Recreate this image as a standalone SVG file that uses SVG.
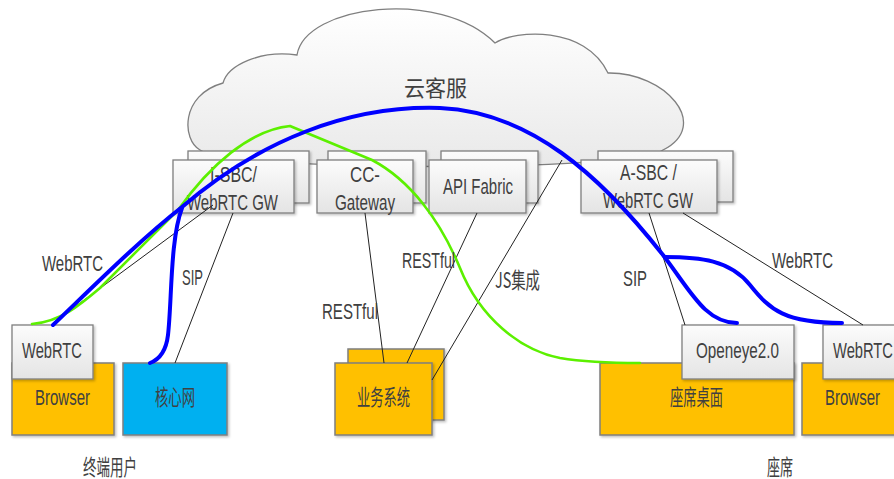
<svg xmlns="http://www.w3.org/2000/svg" width="894" height="479" viewBox="0 0 894 479">
<defs>
<linearGradient id="gBox" x1="0" y1="0" x2="0" y2="1">
<stop offset="0" stop-color="#fcfcfc"/>
<stop offset="1" stop-color="#e4e4e4"/>
</linearGradient>
<linearGradient id="gCloud" x1="0" y1="0" x2="0" y2="1">
<stop offset="0" stop-color="#ffffff"/>
<stop offset="1" stop-color="#e9e9e9"/>
</linearGradient>
<filter id="sh" x="-10%" y="-10%" width="130%" height="130%">
<feDropShadow dx="1.5" dy="1.5" stdDeviation="1" flood-color="#000" flood-opacity="0.25"/>
</filter>
</defs>
<style>
.gray{fill:url(#gBox);stroke:#7f7f7f;stroke-width:1.3;filter:url(#sh)}
.yel{fill:#ffc000;stroke:#7f7f7f;stroke-width:1.5;filter:url(#sh)}
.blu{fill:#00b0f0;stroke:#7f7f7f;stroke-width:1.5;filter:url(#sh)}
.t{font-family:"Liberation Sans","Noto Sans CJK SC",sans-serif;font-size:22px;fill:#404040;text-anchor:middle}
.c{font-family:"Noto Sans CJK SC","Liberation Sans",sans-serif;font-size:22px;fill:#404040;text-anchor:middle}
.thin{fill:none;stroke:#222;stroke-width:1}
.bl{fill:none;stroke:#0000ff;stroke-width:4;stroke-linecap:round}
.gr{fill:none;stroke:#5cf000;stroke-width:2.6;stroke-linecap:round;stroke-linejoin:round}
</style>
<rect width="894" height="479" fill="#ffffff"/>

<g id="cloud">
<path d="M200,150 C182,140 180,95 223,83 C228,65 260,50 297,55 C305,5 440,-12 495,43 C515,30 585,25 608,73 C665,72 712,125 663,150 C640,172 230,172 200,150 Z" fill="url(#gCloud)" stroke="#7f7f7f" stroke-width="1.3"/>
<text class="c" x="435.5" y="96" font-size="34" textLength="63" lengthAdjust="spacingAndGlyphs">云客服</text>
</g>

<g id="isbc">
<rect class="gray" x="188" y="151" width="121" height="52"/>
<rect class="gray" x="173" y="160" width="121" height="53"/>
<text class="t" x="233.5" y="182" textLength="47" lengthAdjust="spacingAndGlyphs">I-SBC/</text>
<text class="t" x="232.5" y="210" textLength="91" lengthAdjust="spacingAndGlyphs">WebRTC GW</text>
</g>

<g id="ccgw">
<rect class="gray" x="328" y="151" width="98" height="52"/>
<rect class="gray" x="317" y="160" width="96" height="53"/>
<text class="t" x="365" y="182" textLength="30" lengthAdjust="spacingAndGlyphs">CC-</text>
<text class="t" x="365" y="210" textLength="60" lengthAdjust="spacingAndGlyphs">Gateway</text>
</g>

<g id="apifabric">
<rect class="gray" x="441" y="151" width="97" height="52"/>
<rect class="gray" x="429" y="160" width="97" height="53"/>
<text class="t" x="478" y="194" textLength="70" lengthAdjust="spacingAndGlyphs">API Fabric</text>
</g>

<g id="asbc">
<rect class="gray" x="598" y="151" width="135" height="51"/>
<rect class="gray" x="581" y="160" width="136" height="53"/>
<text class="t" x="648.5" y="180" textLength="57" lengthAdjust="spacingAndGlyphs">A-SBC /</text>
<text class="t" x="648" y="208" textLength="90" lengthAdjust="spacingAndGlyphs">WebRTC GW</text>
</g>

<g id="browser-left">
<rect class="yel" x="12" y="363" width="102" height="72"/>
<text class="t" x="62.5" y="405" fill="#3a3a3a" textLength="55" lengthAdjust="spacingAndGlyphs">Browser</text>
</g>
<g id="webrtc-left">
<rect class="gray" x="12" y="325" width="81" height="54"/>
<text class="t" x="52" y="358" textLength="60" lengthAdjust="spacingAndGlyphs">WebRTC</text>
</g>

<g id="core">
<rect class="blu" x="123" y="363" width="104" height="72"/>
<text class="c" x="175" y="405" fill="#333" textLength="40" lengthAdjust="spacingAndGlyphs">核心网</text>
</g>

<g id="biz">
<rect class="yel" x="348" y="349" width="96" height="71"/>
<rect class="yel" x="335" y="363" width="97" height="72"/>
<text class="c" x="383.5" y="405" fill="#3a3a3a" textLength="53" lengthAdjust="spacingAndGlyphs">业务系统</text>
</g>

<g id="desk">
<rect class="yel" x="600" y="363" width="194" height="72"/>
<text class="c" x="696.5" y="405" fill="#3a3a3a" textLength="53" lengthAdjust="spacingAndGlyphs">座席桌面</text>
</g>
<g id="openeye">
<rect class="gray" x="682" y="325" width="112" height="54"/>
<text class="t" x="737.5" y="358" textLength="83" lengthAdjust="spacingAndGlyphs">Openeye2.0</text>
</g>

<g id="browser-right">
<rect class="yel" x="802" y="363" width="110" height="72"/>
<text class="t" x="852.5" y="405" fill="#3a3a3a" textLength="55" lengthAdjust="spacingAndGlyphs">Browser</text>
</g>
<g id="webrtc-right">
<rect class="gray" x="823" y="325" width="90" height="54"/>
<text class="t" x="833" y="358" style="text-anchor:start" textLength="60" lengthAdjust="spacingAndGlyphs">WebRTC</text>
</g>

<g id="connectors">
<line class="thin" x1="213" y1="205" x2="53" y2="323"/>
<line class="thin" x1="233" y1="213" x2="175" y2="363"/>
<line class="thin" x1="365" y1="213" x2="384" y2="363"/>
<line class="thin" x1="477" y1="213" x2="407" y2="363"/>
<line class="thin" x1="562" y1="160" x2="432" y2="380"/>
<line class="thin" x1="649" y1="213" x2="685" y2="325"/>
<line class="thin" x1="683" y1="213" x2="863" y2="325"/>
<path class="gr" d="M32,324 C60,322 80,305 100,288 L178,210 C210,165 250,130 290,126 L372,160 C410,180 440,220 460,268 C480,318 520,350 560,358 C590,363 620,363 640,363"/>
<path class="bl" d="M53,325 C100,280 140,240 182,207 C260,140 350,105 440,108 C530,112 600,175 663,255 C690,290 705,323 737,323"/>
<path class="bl" d="M665,257 C700,257 730,260 750,285 C770,310 785,323 842,323"/>
<path class="bl" d="M182,208 C170,240 172,300 168,335 C166,352 158,360 150,363"/>
</g>

<g id="labels">
<text class="t" x="72.5" y="271" textLength="61" lengthAdjust="spacingAndGlyphs">WebRTC</text>
<text class="t" x="192.5" y="285" textLength="21" lengthAdjust="spacingAndGlyphs">SIP</text>
<text class="t" x="350" y="319" textLength="56" lengthAdjust="spacingAndGlyphs">RESTful</text>
<text class="t" x="428.5" y="268" textLength="53" lengthAdjust="spacingAndGlyphs">RESTful</text>
<text class="c" x="517.5" y="288" textLength="45" lengthAdjust="spacingAndGlyphs">JS集成</text>
<text class="t" x="635" y="286" textLength="24" lengthAdjust="spacingAndGlyphs">SIP</text>
<text class="t" x="802.5" y="268" textLength="61" lengthAdjust="spacingAndGlyphs">WebRTC</text>
<text class="c" x="110" y="475" textLength="54" lengthAdjust="spacingAndGlyphs">终端用户</text>
<text class="c" x="780" y="475" textLength="26" lengthAdjust="spacingAndGlyphs">座席</text>
</g>
</svg>
